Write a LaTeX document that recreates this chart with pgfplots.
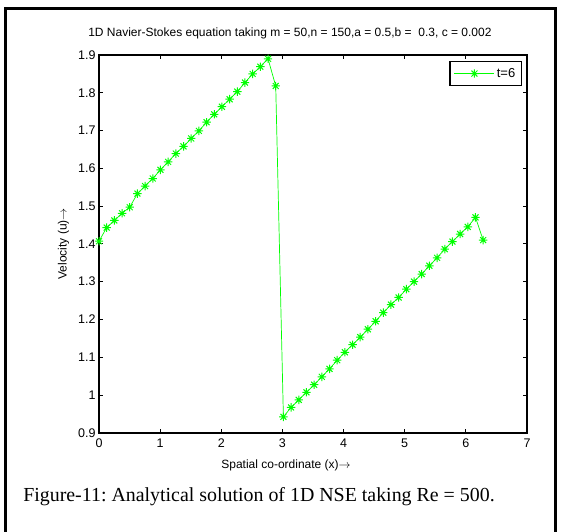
\documentclass[border=0pt]{standalone}
\usepackage{fontspec}
\setmainfont{Liberation Sans}
\newfontfamily\timesfont{Liberation Serif}
\usepackage{pgfplots}
\pgfplotsset{compat=1.18}

% MATLAB-like '*' marker: plus and cross together
\pgfdeclareplotmark{mstar}{%
  \pgfpathmoveto{\pgfqpoint{-\pgfplotmarksize}{0pt}}%
  \pgfpathlineto{\pgfqpoint{\pgfplotmarksize}{0pt}}%
  \pgfpathmoveto{\pgfqpoint{0pt}{-\pgfplotmarksize}}%
  \pgfpathlineto{\pgfqpoint{0pt}{\pgfplotmarksize}}%
  \pgfpathmoveto{\pgfqpoint{-0.707\pgfplotmarksize}{-0.707\pgfplotmarksize}}%
  \pgfpathlineto{\pgfqpoint{0.707\pgfplotmarksize}{0.707\pgfplotmarksize}}%
  \pgfpathmoveto{\pgfqpoint{-0.707\pgfplotmarksize}{0.707\pgfplotmarksize}}%
  \pgfpathlineto{\pgfqpoint{0.707\pgfplotmarksize}{-0.707\pgfplotmarksize}}%
  \pgfusepathqstroke}

\pgfplotstableread{
x      u
0.0000 1.407
0.1257 1.443
0.2513 1.462
0.3770 1.481
0.5027 1.497
0.6283 1.533
0.7540 1.553
0.8796 1.573
1.0053 1.596
1.1310 1.617
1.2566 1.639
1.3823 1.658
1.5080 1.679
1.6336 1.699
1.7593 1.722
1.8850 1.743
2.0106 1.763
2.1363 1.783
2.2619 1.803
2.3876 1.827
2.5133 1.850
2.6389 1.869
2.7646 1.890
2.8903 1.818
3.0159 0.942
3.1416 0.967
3.2673 0.987
3.3929 1.007
3.5186 1.027
3.6442 1.048
3.7699 1.069
3.8956 1.092
4.0212 1.113
4.1469 1.133
4.2726 1.153
4.3982 1.174
4.5239 1.195
4.6496 1.218
4.7752 1.239
4.9009 1.258
5.0265 1.280
5.1522 1.300
5.2779 1.320
5.4035 1.342
5.5292 1.363
5.6549 1.386
5.7805 1.406
5.9062 1.426
6.0319 1.445
6.1575 1.470
6.2832 1.410
}\nse

\begin{document}
\frenchspacing
\begin{tikzpicture}
\useasboundingbox (0,0) rectangle (561pt,531pt);
% outer frame (open at the bottom)
\draw[line width=2.5pt] (5.5pt,-3pt) -- (5.5pt,522.7pt) -- (555.3pt,522.7pt) -- (555.3pt,-3pt);

\begin{axis}[
    at={(99pt,98.3pt)}, anchor=south west,
    scale only axis, width=428pt, height=377.7pt,
    xmin=0, xmax=7, ymin=0.9, ymax=1.9,
    xtick={0,1,2,3,4,5,6,7},
    ytick={0.9,1,1.1,1.2,1.3,1.4,1.5,1.6,1.7,1.8,1.9},
    tick pos=both, tick align=inside,
    major tick length=4pt,
    tick style={black, line width=0.8pt},
    axis line style={line width=1.6pt},
    /pgf/number format/assume math mode=true,
    tick label style={font=\fontsize{12.5}{14}\selectfont},
    xticklabel style={yshift=-3pt},
    title={1D Navier-Stokes equation taking m = 50,n = 150,a = 0.5,b =\ \ 0.3, c = 0.002},
    title style={at={(axis description cs:0.446,1)}, anchor=base, yshift=12pt,
        font=\fontsize{12}{14}\selectfont},
    xlabel={Spatial co-ordinate (x)$\rightarrow$},
    xlabel style={at={(axis description cs:0.437,0)}, anchor=base, yshift=-35.3pt,
        font=\fontsize{12}{14}\selectfont},
    ylabel={Velocity (u)$\rightarrow$},
    ylabel style={at={(axis description cs:-0.0755,0.5)}, anchor=base,
        font=\fontsize{12}{14}\selectfont},
    legend style={at={(rel axis cs:1,1)}, anchor=north east, xshift=-5pt, yshift=-6pt,
        draw=black, line width=1.5pt, inner xsep=4pt, inner ysep=4.5pt,
        font=\fontsize{13}{15}\selectfont},
    legend image code/.code={%
        \draw[mark repeat=2, mark phase=2] plot coordinates {(0pt,0pt) (20pt,0pt) (40pt,0pt)};},
]
\addplot[color=green, line width=0.7pt, mark=mstar, mark size=4.2pt,
    mark options={line width=1pt}] table[x=x, y=u] {\nse};
\addlegendentry{t=6}
\end{axis}

\node[anchor=base, font=\timesfont\fontsize{19.9}{22}\selectfont] at (259pt,30pt)
    {Figure-11: Analytical solution of 1D NSE taking Re = 500.};
\end{tikzpicture}
\end{document}
